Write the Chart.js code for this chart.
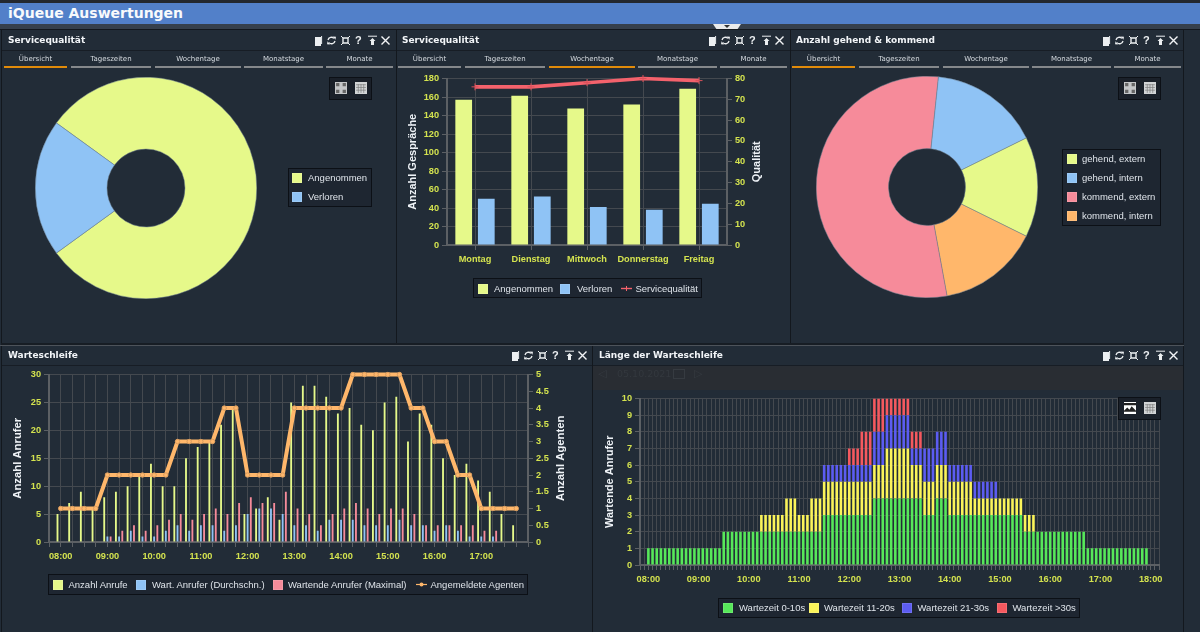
<!DOCTYPE html>
<html lang="de"><head><meta charset="utf-8"><title>iQueue Auswertungen</title>
<script src="https://cdn.jsdelivr.net/npm/chart.js@4/dist/chart.umd.min.js"></script>
<style>
html,body{margin:0;padding:0;background:#222c37;width:1200px;height:632px;overflow:hidden;font-family:"Liberation Sans",Arial,sans-serif}
#page{position:absolute;left:0;top:0;width:1200px;height:632px;filter:blur(.25px)}
.a{position:absolute}
.a svg{display:block}
canvas{position:absolute;display:block}
.ptitle{position:absolute;font:bold 9px "DejaVu Sans";color:#f2f5f8;white-space:nowrap}
.tabt{position:absolute;top:55px;font:7px "DejaVu Sans";color:#d6dbe0;text-align:center;white-space:nowrap}
.lg{position:absolute;background:#1e2631;border:1px solid #0c1016;box-sizing:border-box}
.lt{position:absolute;font:9.5px "Liberation Sans";color:#dfe4ea;white-space:nowrap;line-height:12px}
.sw{position:absolute;width:10px;height:10px;box-sizing:border-box;border:1px solid rgba(255,255,255,.12)}
.tb{position:absolute;background:#1a2029;border:1px solid #0c1016;box-sizing:border-box;width:43px;height:23px}
</style></head><body>
<div id="page">
<div id="chrome"></div>
<canvas id="c1" width="222" height="222" style="left:35px;top:77px"></canvas>
<canvas id="c2" width="392" height="205" style="left:398px;top:70px"></canvas>
<canvas id="c3" width="222" height="222" style="left:816px;top:76px"></canvas>
<canvas id="c4" width="590" height="206" style="left:2px;top:366px"></canvas>
<canvas id="c5" width="589" height="205" style="left:594px;top:390px"></canvas>
<div id="over"></div>
</div>
<script>
// ---------- data ----------
const headerTitle = "iQueue Auswertungen";
const tabNames = ["Übersicht","Tageszeiten","Wochentage","Monatstage","Monate"];
const qualityLabels = ["Angenommen","Verloren"];
const qualityShares = [80,20];
const weekdays = ["Montag","Dienstag","Mittwoch","Donnerstag","Freitag"];
const weekAccepted = [157,161.5,147.5,152,169];
const weekLost = [50,52.5,41,38,44.5];
const weekQuality = [76,76,78,80,79];
const directionLabels = ["gehend, extern","gehend, intern","kommend, extern","kommend, intern"];
const directionValues = [14.6,16.05,54.55,14.8];
const queueTimes = ["08:00","08:15","08:30","08:45","09:00","09:15","09:30","09:45","10:00","10:15","10:30","10:45","11:00","11:15","11:30","11:45","12:00","12:15","12:30","12:45","13:00","13:15","13:30","13:45","14:00","14:15","14:30","14:45","15:00","15:15","15:30","15:45","16:00","16:15","16:30","16:45","17:00","17:15","17:30","17:45"];
const queueCalls = [5,7,9,6,8,9,10,12,14,10,10,15,17,18,21,24,5,6,8,4,25,28,28,26,23,24,21,20,25,26,18,23,21,15,12,14,11,9,5,3];
const queueAvg = [0,0,0,0,1,1,2,1,1,2,3,2,3,3,2,3,5,6,6,5,3,3,2,4,4,4,3,3,3,4,3,3,2,3,2,1,1,1,0,0];
const queueMax = [0,0,0,0,1,2,3,2,3,4,5,4,5,6,5,7,8,7,7,9,6,5,3,5,6,7,6,5,6,6,5,3,3,3,3,3,2,2,0,0];
const queueAgents = [1,1,1,1,2,2,2,2,2,2,3,3,3,3,4,4,2,2,2,2,4,4,4,4,4,5,5,5,5,5,4,4,3,3,2,2,1,1,1,1];
const hoursFiveMin = ["08","09","10","11","12","13","14","15","16","17"];
const minutesFiveMin = ["00","05","10","15","20","25","30","35","40","45","50","55"];
const waitLabels = ["Wartezeit 0-10s","Wartezeit 11-20s","Wartezeit 21-30s","Wartezeit >30s"];
const wait0to10 = [1,1,1,1,1,1,1,1,1,1,1,1,1,1,1,1,1,1,2,2,2,2,2,2,2,2,2,2,2,2,2,2,2,2,2,2,2,2,2,2,2,2,3,3,3,3,3,3,3,3,3,3,3,3,4,4,4,4,4,4,4,4,4,4,4,4,3,3,3,4,4,4,3,3,3,3,3,3,3,3,3,3,3,3,3,3,3,3,3,3,2,2,2,2,2,2,2,2,2,2,2,2,2,2,2,1,1,1,1,1,1,1,1,1,1,1,1,1,1,1];
const wait11to20 = [0,0,0,0,0,0,0,0,0,0,0,0,0,0,0,0,0,0,0,0,0,0,0,0,0,0,0,1,1,1,1,1,1,2,2,2,1,1,1,2,2,2,2,2,2,2,2,2,2,2,2,2,2,2,2,2,2,3,3,3,3,3,3,2,2,2,2,2,2,2,2,2,2,2,2,2,2,2,1,1,1,1,1,1,1,1,1,1,1,1,1,1,1,0,0,0,0,0,0,0,0,0,0,0,0,0,0,0,0,0,0,0,0,0,0,0,0,0,0,0];
const wait21to30 = [0,0,0,0,0,0,0,0,0,0,0,0,0,0,0,0,0,0,0,0,0,0,0,0,0,0,0,0,0,0,0,0,0,0,0,0,0,0,0,0,0,0,1,1,1,1,1,1,1,1,1,1,1,1,2,2,2,2,2,2,2,2,2,1,1,1,2,2,2,2,2,2,1,1,1,1,1,1,1,1,1,1,1,1,0,0,0,0,0,0,0,0,0,0,0,0,0,0,0,0,0,0,0,0,0,0,0,0,0,0,0,0,0,0,0,0,0,0,0,0];
const waitOver30 = [0,0,0,0,0,0,0,0,0,0,0,0,0,0,0,0,0,0,0,0,0,0,0,0,0,0,0,0,0,0,0,0,0,0,0,0,0,0,0,0,0,0,0,0,0,0,0,0,1,1,1,2,2,2,2,2,2,1,1,1,1,1,1,1,1,1,0,0,0,0,0,0,0,0,0,0,0,0,0,0,0,0,0,0,0,0,0,0,0,0,0,0,0,0,0,0,0,0,0,0,0,0,0,0,0,0,0,0,0,0,0,0,0,0,0,0,0,0,0,0];
const queueLegend = ["Anzahl Anrufe","Wart. Anrufer (Durchschn.)","Wartende Anrufer (Maximal)","Angemeldete Agenten"];

// ---------- colours ----------
const YEL="#e6f98a",BLU="#8fc3f5",PNK="#f68b9a",ORG="#ffb76b",RED="#f4626c";
const G1="#57e85a",G2="#fbf45a",G3="#5c5cf2",G4="#f5595f";
const TICK="#d4e34f",GRID="#44494f",AXIS="#5c6064",TITLE="#eef2f6";
const TICKFONT={family:'"Liberation Sans"',size:9.2,weight:'bold'};
const TITLEFONT=s=>({family:'"Liberation Sans"',size:s,weight:'bold'});

// ---------- chrome ----------
const chrome=document.getElementById('chrome'), over=document.getElementById('over');
function box(l,t,w,h,bg,par){const d=document.createElement('div');d.className='a';d.style.cssText=`left:${l}px;top:${t}px;width:${w}px;height:${h}px;background:${bg}`;(par||chrome).appendChild(d);return d;}
function txt(cls,l,t,s,par,extra){const d=document.createElement('div');d.className=cls;d.style.left=l+'px';d.style.top=t+'px';if(extra)d.style.cssText+=extra;d.textContent=s;(par||chrome).appendChild(d);return d;}
box(0,0,1200,3,'#23282f');
box(0,3,1200,21,'#5280c9');
txt('a',8,4,headerTitle,chrome,'font:bold 14px "DejaVu Sans";color:#f8fafc;line-height:19px;white-space:nowrap');
box(0,24,1200,5,'#36404c');
box(0,29,1200,1,'#13181e');
const chev=box(713,24,28,5,'#e9eaea');chev.style.clipPath='polygon(0 0,100% 0,88% 100%,12% 100%)';
const chev2=box(724,25,6,3,'#333');chev2.style.clipPath='polygon(0 0,100% 0,50% 100%)';
// separators
box(1,30,1,315,'#13181e');box(396,30,1,315,'#13181e');box(790,30,1,315,'#13181e');box(1183,30,1,315,'#13181e');
box(1,343,1183,2,'#171d24');box(0,345,1184,1,'#4d535a');
box(1,346,1,286,'#13181e');box(592,346,1,286,'#13181e');box(1183,346,1,286,'#13181e');
// title-bar underlines
[[2,394],[397,393],[791,392]].forEach(([l,w])=>box(l,50,w,1,'#171d25'));
[[2,590],[593,590]].forEach(([l,w])=>box(l,365,w,1,'#171d25'));

const ICON={
 doc:'<path d="M2 2h6v9H2z" fill="#eceff1"/><path d="M8.6 1v8" stroke="#eceff1" stroke-width="1"/>',
 ref:'<path d="M2 5a3.5 3.5 0 0 1 6-1.6M9 6a3.5 3.5 0 0 1-6 1.6" stroke="#eceff1" stroke-width="1.3" fill="none"/><path d="M7 1.5l3 .3-.6 3zM4 9.5l-3-.3.6-3z" fill="#eceff1"/>',
 exp:'<path d="M3 3h5v5H3z" fill="none" stroke="#eceff1" stroke-width="1.4"/><path d="M1 1l2 2M10 1L8 3M1 10l2-2M10 10L8 8" stroke="#eceff1"/>',
 pin:'<path d="M1 1.2h9" stroke="#eceff1" stroke-width="1"/><path d="M5.5 3l3 3H7v4H4V6H2.5z" fill="#eceff1"/>',
 x:'<path d="M1.5 1.5l8 8M9.5 1.5l-8 8" stroke="#f2f4f6" stroke-width="1.4"/>'
};
function svg(l,t,inner,s){const d=document.createElement('div');d.className='a';d.style.cssText=`left:${l}px;top:${t}px;width:${s||11}px;height:${s||11}px`;d.innerHTML=`<svg width="${s||11}" height="${s||11}" viewBox="0 0 11 11">${inner}</svg>`;over.appendChild(d);}
function panelHead(title,left,y,right){
  txt('ptitle',left,y-5,title,over);
  const xs=[-65,-52,-38,-25,-11,2];const k=['doc','ref','exp',null,'pin','x'];
  xs.forEach((dx,i)=>{const cx=right+dx-9;if(k[i])svg(cx-5.5,y-5.5,ICON[k[i]]);else txt('a',cx-3,y-6,'?',over,'font:bold 11px "Liberation Sans";color:#eceff1;line-height:13px');});
}
panelHead("Servicequalität",8,40,392);
panelHead("Servicequalität",402,40,786);
panelHead("Anzahl gehend & kommend",796,40,1180);
panelHead("Warteschleife",8,355,589);
panelHead("Länge der Warteschleife",599,355,1180);
function tabs(off,active){
  const seg=[[4,63],[71,80],[155,86],[244,79],[326,67]];
  seg.forEach(([l,w],i)=>{
    box(l+off,66,w,2,i===active?'#e18b0a':'#85888b',over);
    txt('tabt',l+off,55,tabNames[i],over,`width:${w}px`);
  });
}
tabs(0,0);tabs(394,2);tabs(788,0);

function toolbox(l,t,pair){
  const b=document.createElement('div');b.className='tb';b.style.left=l+'px';b.style.top=t+'px';over.appendChild(b);
  const pie='<rect width="11" height="11" fill="#c4c6c8"/><path d="M1 1h3v3H1zM7 1h3v3H7zM1 7h3v3H1zM7 7h3v3H7z" fill="#666"/>';
  const grid='<rect width="11" height="11" fill="#d2d4d5"/><path d="M1 2.5h9M1 5h9M1 7.5h9M3 2v8M5.5 2v8M8 2v8" stroke="#777" stroke-width=".6"/>';
  const img='<rect width="11" height="11" fill="#fff"/><path d="M0 3h11V1H0zM0 8l3-3 2 2 2-3 4 4v1H0z" fill="#222"/>';
  svg(l+6,t+5,pair==='img'?img:pie,12);
  svg(l+26,t+5,grid,12);
}
toolbox(329,77,'pie');toolbox(1118,77,'pie');toolbox(1118,397,'img');

// date bar in panel 5
box(593,366,590,24,'#292d33');
txt('a',598,367,'◁',over,'font:11px "DejaVu Sans";color:#363b41;line-height:13px');
txt('a',617,367,'05.10.2021',over,'font:9.5px "DejaVu Sans";color:#33383e;line-height:13px');
const cal=box(673,369,10,8,'transparent',over);cal.style.border='1px solid #363b41';
txt('a',694,367,'▷',over,'font:11px "DejaVu Sans";color:#363b41;line-height:13px');

// legends (built from the same label arrays as the charts)
function legend(l,t,w,h,items){
  const b=document.createElement('div');b.className='lg';b.style.cssText+=`left:${l}px;top:${t}px;width:${w}px;height:${h}px`;over.appendChild(b);
  items.forEach(it=>{
    if(it.color){const s=document.createElement('div');s.className='sw';s.style.cssText+=`left:${it.x}px;top:${it.y-5}px;background:${it.color}`;over.appendChild(s);}
    if(it.sym) svg(it.x,it.y-5.5,it.sym);
    txt('lt',it.tx,it.y-6,it.text,over);
  });
}
legend(288,168,84,39,[{x:292,y:178,color:YEL,tx:308,text:qualityLabels[0]},{x:292,y:197,color:BLU,tx:308,text:qualityLabels[1]}]);
legend(473,278,229,20,[{x:478,y:288.5,color:YEL,tx:494,text:qualityLabels[0]},{x:560,y:288.5,color:BLU,tx:577,text:qualityLabels[1]},
 {x:621,y:288.5,sym:`<path d="M0 5.5h11" stroke="${RED}" stroke-width="1.4"/><path d="M5.5 3v5M3 5.5h5" stroke="${RED}" stroke-width="1"/>`,tx:635.5,text:"Servicequalität"}]);
legend(1062,149,99,77,[{x:1067,y:159,color:YEL,tx:1082,text:directionLabels[0]},{x:1067,y:178,color:BLU,tx:1082,text:directionLabels[1]},{x:1067,y:197,color:PNK,tx:1082,text:directionLabels[2]},{x:1067,y:216,color:ORG,tx:1082,text:directionLabels[3]}]);
legend(48,574,480,21,[{x:53,y:584.5,color:YEL,tx:68.5,text:queueLegend[0]},{x:136,y:584.5,color:BLU,tx:152,text:queueLegend[1]},{x:272.5,y:584.5,color:PNK,tx:288,text:queueLegend[2]},
 {x:416,y:584.5,sym:`<path d="M0 5.5h11" stroke="${ORG}" stroke-width="1.2"/><circle cx="5.5" cy="5.5" r="2" fill="${ORG}"/>`,tx:430.5,text:queueLegend[3]}]);
legend(718,598,362,20,[{x:723,y:608,color:G1,tx:739,text:waitLabels[0]},{x:809,y:608,color:G2,tx:824,text:waitLabels[1]},{x:902,y:608,color:G3,tx:917.5,text:waitLabels[2]},{x:997,y:608,color:G4,tx:1012.5,text:waitLabels[3]}]);

// ---------- charts ----------
Chart.defaults.animation=false;Chart.defaults.responsive=false;
const noPlug={legend:{display:false},tooltip:{enabled:false},title:{display:false}};
const rightTitle={id:'rightTitle',afterDraw(chart,a,o){
  const s=chart.scales.y2;if(!s)return;const c=chart.ctx;c.save();
  c.translate(o.x,(chart.chartArea.top+chart.chartArea.bottom)/2);c.rotate(-Math.PI/2);
  c.font=`bold ${o.size}px "Liberation Sans"`;c.fillStyle=TITLE;c.textAlign='center';c.textBaseline='middle';
  c.fillText(s.options.title.text,0,0);c.restore();}};
const tickGrid=(on)=>({color:on?GRID:'transparent',tickColor:AXIS,tickLength:5,drawOnChartArea:on});
const w=(n)=>function(s){s.width=n;};
const h=(n)=>function(s){s.height=n;};
const yAxis=(o)=>Object.assign({type:'linear',position:'left',grid:tickGrid(true),border:{color:AXIS,width:2},
  ticks:{color:TICK,font:TICKFONT,padding:3,callback:v=>String(v)}},o);

function doughnut(id,labels,values,colors,rotation,cutout){
  new Chart(document.getElementById(id),{type:'doughnut',
    data:{labels,datasets:[{data:values,backgroundColor:colors,borderWidth:0.5,borderColor:'#6f8090'}]},
    options:{rotation,cutout,plugins:noPlug,layout:{padding:0}}});
}
doughnut('c1',qualityLabels,qualityShares,[YEL,BLU],306,39);
doughnut('c3',directionLabels.slice().reverse(),directionValues.slice().reverse(),[ORG,PNK,BLU,YEL],116.3,38.5);

// chart 2: weekdays
new Chart(document.getElementById('c2'),{type:'bar',plugins:[rightTitle],
  data:{labels:weekdays,datasets:[
    {type:'line',label:"Servicequalität",data:weekQuality,yAxisID:'y2',order:0,borderColor:RED,borderWidth:3.6,pointStyle:'cross',pointRadius:3.5,pointBorderColor:'#d9505a',pointBorderWidth:1,tension:0,clip:false},
    {label:qualityLabels[0],data:weekAccepted,backgroundColor:YEL,order:1,categoryPercentage:.807,barPercentage:.74},
    {label:qualityLabels[1],data:weekLost,backgroundColor:BLU,order:1,categoryPercentage:.807,barPercentage:.74}]},
  options:{layout:{padding:{top:7}},plugins:Object.assign({},noPlug,{rightTitle:{x:359,size:11}}),
    scales:{
      x:{type:'category',offset:true,grid:{offset:false,color:GRID,tickColor:AXIS,tickLength:5},border:{color:AXIS,width:2},ticks:{color:TICK,font:TICKFONT,padding:4,maxRotation:0,autoSkip:false},afterFit:h(30)},
      y:yAxis({min:0,max:180,afterFit:w(49),ticks:{color:TICK,font:TICKFONT,padding:3,stepSize:20,callback:v=>String(v)},title:{display:true,text:"Anzahl Gespräche",color:TITLE,font:TITLEFONT(11),padding:{top:8,bottom:0}}}),
      y2:yAxis({position:'right',min:0,max:80,afterFit:w(63),grid:tickGrid(false),ticks:{color:TICK,font:TICKFONT,padding:3,stepSize:10,callback:v=>String(v)},title:{display:false,text:"Qualität"}})
    }}});

// chart 4: queue over the day; blank first/last slots pad the category axis
const padQ=a=>[null,...a,null];
new Chart(document.getElementById('c4'),{type:'bar',plugins:[rightTitle],
  data:{labels:padQ(queueTimes).map(v=>v===null?"":v),datasets:[
    {type:'line',label:queueLegend[3],data:padQ(queueAgents),yAxisID:'y2',order:0,borderColor:ORG,borderWidth:4,pointRadius:2.2,pointBackgroundColor:ORG,pointBorderColor:'#d89c5f',pointBorderWidth:1,tension:0,clip:false},
    {label:queueLegend[0],data:padQ(queueCalls),backgroundColor:YEL,order:1,categoryPercentage:.82,barPercentage:.58},
    {label:queueLegend[1],data:padQ(queueAvg),backgroundColor:BLU,order:1,categoryPercentage:.82,barPercentage:.58},
    {label:queueLegend[2],data:padQ(queueMax),backgroundColor:PNK,order:1,categoryPercentage:.82,barPercentage:.58}]},
  options:{layout:{padding:{top:7}},plugins:Object.assign({},noPlug,{rightTitle:{x:558.7,size:11.3}}),
    scales:{
      x:{type:'category',offset:false,grid:{offset:false,color:GRID,tickColor:AXIS,tickLength:5},border:{color:AXIS,width:2},
        ticks:{color:TICK,font:TICKFONT,padding:4,maxRotation:0,autoSkip:false,callback(v){const l=this.getLabelForValue(v);return l.endsWith(':00')?l:'';}},afterFit:h(30)},
      y:yAxis({min:0,max:30,afterFit:w(47),ticks:{color:TICK,font:TICKFONT,padding:3,stepSize:5,callback:v=>String(v)},title:{display:true,text:"Anzahl Anrufer",color:TITLE,font:TITLEFONT(11.3),padding:{top:8.9,bottom:0}}}),
      y2:yAxis({position:'right',min:0,max:5,afterFit:w(64),grid:tickGrid(false),ticks:{color:TICK,font:TICKFONT,padding:3,stepSize:.5,callback:v=>String(v)},title:{display:false,text:"Anzahl Agenten"}})
    }}});

// chart 5: 5-minute stacked waiting buckets
const slots5=[];hoursFiveMin.forEach(hh=>minutesFiveMin.forEach(mm=>slots5.push(hh+":"+mm)));
const labels5=["","",...slots5,"18:00","",""];
const pad5=a=>[null,null,...a,null,null,null];
const stack5=(label,data,color)=>({label,data:pad5(data),backgroundColor:color,categoryPercentage:1,barPercentage:.62});
new Chart(document.getElementById('c5'),{type:'bar',
  data:{labels:labels5,datasets:[stack5(waitLabels[0],wait0to10,G1),stack5(waitLabels[1],wait11to20,G2),stack5(waitLabels[2],wait21to30,G3),stack5(waitLabels[3],waitOver30,G4)]},
  options:{layout:{padding:{top:7,right:24}},plugins:noPlug,
    scales:{
      x:{type:'category',stacked:true,offset:false,grid:{offset:false,color:GRID,tickColor:AXIS,tickLength:5},border:{color:AXIS,width:2},
        ticks:{color:TICK,font:TICKFONT,padding:4,maxRotation:0,autoSkip:false,callback(v){const l=this.getLabelForValue(v);return l.endsWith(':00')?l:'';}},afterFit:h(30)},
      y:yAxis({stacked:true,min:0,max:10,afterFit:w(46),ticks:{color:TICK,font:TICKFONT,padding:3,stepSize:1,callback:v=>String(v)},title:{display:true,text:"Wartende Anrufer",color:TITLE,font:TITLEFONT(11),padding:{top:8.9,bottom:0}}})
    }}});
</script>
</body></html>
